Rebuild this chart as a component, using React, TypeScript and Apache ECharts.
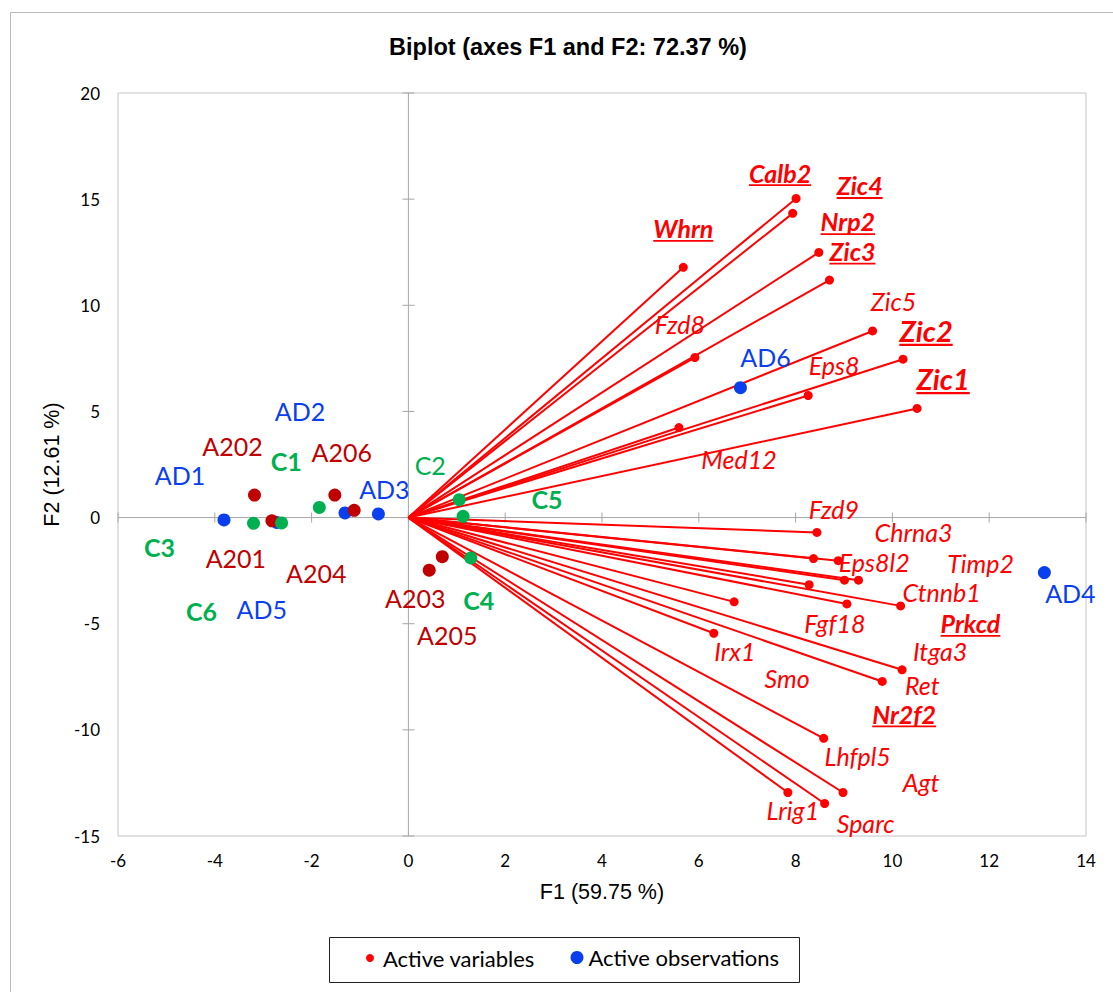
import React, { useEffect, useRef } from 'react';
import * as echarts from 'echarts';

// ---------- DATA ----------
const xTicks = [-6, -4, -2, 0, 2, 4, 6, 8, 10, 12, 14];
const yTicks = [-15, -10, -5, 0, 5, 10, 15, 20];

const varNames = [
  'Calb2', 'Zic4', 'Nrp2', 'Zic3', 'Whrn', 'Zic5', 'Zic2', 'Eps8', 'Zic1', 'Fzd8', 'Med12',
  'Fzd9', 'Chrna3', 'Eps8l2', 'Prkcd', 'Timp2', 'Nr2f2', 'Smo', 'Fgf18', 'Ctnnb1', 'Irx1',
  'Itga3', 'Ret', 'Lhfpl5', 'Agt', 'Lrig1', 'Sparc',
];
const varF1 = [
  8.01, 7.94, 8.48, 8.7, 5.68, 9.59, 10.22, 8.26, 10.51, 5.92, 5.59,
  8.44, 8.37, 8.88, 9.01, 9.3, 8.28, 6.73, 9.06, 10.17, 6.31,
  10.2, 9.79, 8.58, 8.98, 7.84, 8.6,
];
const varF2 = [
  15.03, 14.33, 12.49, 11.19, 11.79, 8.79, 7.46, 5.75, 5.14, 7.54, 4.24,
  -0.7, -1.93, -2.03, -2.95, -2.95, -3.16, -3.97, -4.07, -4.16, -5.45,
  -7.17, -7.72, -10.4, -12.95, -12.95, -13.47,
];
// emphasis: '' plain, 'b' bold+underline, 'B' big bold+underline
const varEmphasis = [
  'b', 'b', 'b', 'b', 'b', '', 'B', '', 'B', '', '',
  '', '', '', 'b', '', 'b', '', '', '', '',
  '', '', '', '', '', '',
];

const obsNames = [
  'AD1', 'AD2', 'AD3', 'AD4', 'AD5', 'AD6',
  'A201', 'A202', 'A203', 'A204', 'A205', 'A206',
  'C1', 'C2', 'C3', 'C4', 'C5', 'C6',
];
const obsF1 = [-3.81, -1.31, -0.62, 13.14, -2.72, 6.86, -2.82, -3.18, 0.43, -1.12, 0.7, -1.52, -1.84, 1.05, -3.2, 1.29, 1.13, -2.62];
const obsF2 = [-0.11, 0.22, 0.17, -2.59, -0.23, 6.12, -0.15, 1.06, -2.48, 0.34, -1.84, 1.06, 0.48, 0.84, -0.27, -1.9, 0.06, -0.25];
const obsGroup = ['AD', 'AD', 'AD', 'AD', 'AD', 'AD', 'A', 'A', 'A', 'A', 'A', 'A', 'C', 'C', 'C', 'C', 'C', 'C'];
const obsBold = [false, false, false, false, false, false, false, false, false, false, false, false, true, false, true, true, true, true];

// ---------- LAYOUT (label offsets in px from the point) ----------
const varLabelOffsets: [number, number][] = [
  [-16, -26], [67, -28], [29, -31], [23, -29], [0, -39], [21, -30], [23, -29], [26, -31], [26, -30], [-15, -34], [60, 31],
  [17, -23], [100, -27], [36, 1], [126, 43], [122, -17], [95, 129], [53, 76], [-12, 19], [41, -14], [21, 18],
  [38, -19], [40, 4], [34, 18], [78, -10], [5, 18], [41, 19],
];
const obsLabelOffsets: [number, number][] = [
  [-44, -45], [-45, -102], [6, -25], [26, 20], [-15, 87], [25, -31],
  [-36, 37], [-22, -49], [-14, 28], [-38, 63], [5, 78], [7, -43],
  [-33, -46], [-29, -35], [-94, 24], [8, 42], [84, -17], [-80, 88],
];

const RED = '#ff0000';
const BLUE = '#0a3ff0';
const DARKRED = '#c00000';
const GREEN = '#00b050';
const groupColor: Record<string, string> = { AD: BLUE, A: DARKRED, C: GREEN };
const LABEL_FONT = 'Lato';
const SANS = 'Liberation Sans';

let measureCtx: CanvasRenderingContext2D | null = null;
function textWidth(s: string, font: string) {
  if (!measureCtx) measureCtx = document.createElement('canvas').getContext('2d');
  if (!measureCtx) return s.length * 12;
  measureCtx.font = font;
  return measureCtx.measureText(s).width;
}

export default function App() {
  const ref = useRef<HTMLDivElement>(null);
  useEffect(() => {
    const chart = echarts.init(ref.current!, undefined, { renderer: 'svg' });
    const xMin = xTicks[0], xMax = xTicks[xTicks.length - 1];
    const yMin = yTicks[0], yMax = yTicks[yTicks.length - 1];

    const option: any = {
      animation: false,
      backgroundColor: '#ffffff',
      title: {
        text: 'Biplot (axes F1 and F2: 72.37 %)',
        left: 568,
        top: 35,
        padding: 0,
        textAlign: 'center',
        textStyle: { fontFamily: SANS, fontWeight: 'bold', fontSize: 23.5, color: '#000' },
      },
      graphic: [
        { type: 'rect', shape: { x: 10.5, y: 12.5, width: 1300, height: 1300 }, style: { fill: 'none', stroke: '#b8b8b8', lineWidth: 1 }, silent: true, z: -10 },
        { type: 'rect', shape: { x: 329.5, y: 937.5, width: 470, height: 45 }, style: { fill: '#fff', stroke: '#222', lineWidth: 1 }, silent: true, z: -5 },
      ],
      legend: [
        {
          data: [{ name: 'Active variables', icon: 'circle' }],
          left: 366, top: 947, padding: 0, itemWidth: 16, itemHeight: 8,
          textStyle: { fontFamily: LABEL_FONT, fontSize: 22, color: '#000' },
          selectedMode: false,
        },
        {
          data: [{ name: 'Active observations', icon: 'circle' }],
          left: 570.5, top: 946.5, padding: 0, itemWidth: 13, itemHeight: 13,
          textStyle: { fontFamily: LABEL_FONT, fontSize: 22, color: '#000' },
          selectedMode: false,
        },
      ],
      grid: { left: 118, right: 27, top: 93, bottom: 156, show: true, borderColor: '#c4c4c4', borderWidth: 1, containLabel: false },
      xAxis: {
        type: 'value', min: xMin, max: xMax, interval: 2,
        axisLine: { show: false }, axisTick: { show: false }, splitLine: { show: false },
        axisLabel: { margin: 16, fontFamily: LABEL_FONT, fontSize: 17, color: '#000' },
        name: 'F1 (59.75 %)', nameLocation: 'middle', nameGap: 45,
        nameTextStyle: { fontFamily: SANS, fontSize: 21.5, color: '#000' },
      },
      yAxis: {
        type: 'value', min: yMin, max: yMax, interval: 5,
        axisLine: { show: false }, axisTick: { show: false }, splitLine: { show: false },
        axisLabel: { margin: 18, fontFamily: LABEL_FONT, fontSize: 17, color: '#000' },
        name: 'F2 (12.61 %)', nameLocation: 'middle', nameGap: 50, nameRotate: 90,
        nameTextStyle: { fontFamily: SANS, fontSize: 21.5, color: '#000' },
      },
      series: [
        {
          type: 'custom', name: 'zeroAxes', silent: true, z: 1,
          data: [[0, 0]],
          renderItem: (_p: any, api: any) => {
            const stroke = '#a6a6a6';
            const l = api.coord([xMin, 0]);
            const r = api.coord([xMax, 0]);
            const t = api.coord([0, yMax]);
            const b = api.coord([0, yMin]);
            const children: any[] = [
              { type: 'line', shape: { x1: l[0], y1: l[1], x2: r[0], y2: r[1] }, style: { stroke, lineWidth: 1 } },
              { type: 'line', shape: { x1: t[0], y1: t[1], x2: b[0], y2: b[1] }, style: { stroke, lineWidth: 1 } },
            ];
            xTicks.forEach((v) => {
              const p = api.coord([v, 0]);
              children.push({ type: 'line', shape: { x1: p[0], y1: p[1] - 5, x2: p[0], y2: p[1] + 5 }, style: { stroke, lineWidth: 1 } });
            });
            yTicks.forEach((v) => {
              const p = api.coord([0, v]);
              children.push({ type: 'line', shape: { x1: p[0] - 6, y1: p[1], x2: p[0] + 6, y2: p[1] }, style: { stroke, lineWidth: 1 } });
            });
            return { type: 'group', children };
          },
        },
        {
          type: 'custom', name: 'vectors', silent: true, z: 2,
          data: varNames.map((_, i) => [varF1[i], varF2[i]]),
          encode: { x: 0, y: 1 },
          renderItem: (_p: any, api: any) => {
            const o = api.coord([0, 0]);
            const e = api.coord([api.value(0), api.value(1)]);
            return { type: 'line', shape: { x1: o[0], y1: o[1], x2: e[0], y2: e[1] }, style: { stroke: RED, lineWidth: 2 } };
          },
        },
        {
          type: 'scatter', name: 'Active variables', z: 3,
          symbol: 'circle', symbolSize: 9,
          itemStyle: { color: RED, opacity: 1 },
          data: varNames.map((n, i) => ({ name: n, value: [varF1[i], varF2[i]] })),
        },
        {
          type: 'scatter', name: 'Active observations', z: 4,
          symbol: 'circle', symbolSize: 13,
          itemStyle: { color: BLUE, opacity: 1 },
          data: obsNames.map((n, i) => ({ name: n, value: [obsF1[i], obsF2[i]], itemStyle: { color: groupColor[obsGroup[i]], opacity: 1 } })),
        },
        {
          type: 'custom', name: 'varLabels', silent: true, z: 5,
          data: varNames.map((_, i) => [varF1[i], varF2[i], i]),
          encode: { x: 0, y: 1 },
          renderItem: (_p: any, api: any) => {
            const i = api.value(2);
            const p = api.coord([api.value(0), api.value(1)]);
            const [dx, dy] = varLabelOffsets[i];
            const em = varEmphasis[i];
            const size = em === 'B' ? 29 : 25;
            const weight = em ? 'bold' : 'normal';
            const cx = p[0] + dx, cy = p[1] + dy;
            const children: any[] = [
              {
                type: 'text', x: cx, y: cy,
                style: { text: varNames[i], fill: RED, fontFamily: LABEL_FONT, fontSize: size, fontWeight: weight, fontStyle: 'italic', align: 'center', verticalAlign: 'middle' },
              },
            ];
            if (em) {
              const w = textWidth(varNames[i], `italic bold ${size}px ${LABEL_FONT}`);
              children.push({ type: 'rect', shape: { x: cx - w / 2, y: cy + size * 0.47, width: w, height: em === 'B' ? 2.2 : 1.8 }, style: { fill: RED } });
            }
            return { type: 'group', children };
          },
        },
        {
          type: 'custom', name: 'obsLabels', silent: true, z: 5,
          data: obsNames.map((_, i) => [obsF1[i], obsF2[i], i]),
          encode: { x: 0, y: 1 },
          renderItem: (_p: any, api: any) => {
            const i = api.value(2);
            const p = api.coord([api.value(0), api.value(1)]);
            const [dx, dy] = obsLabelOffsets[i];
            return {
              type: 'text', x: p[0] + dx, y: p[1] + dy,
              style: {
                text: obsNames[i], fill: groupColor[obsGroup[i]], fontFamily: LABEL_FONT, fontSize: 25,
                fontWeight: obsBold[i] ? 'bold' : 'normal', align: 'center', verticalAlign: 'middle',
              },
            };
          },
        },
      ],
    };
    chart.setOption(option);
    return () => chart.dispose();
  }, []);
  return <div ref={ref} style={{ position: 'absolute', left: 0, top: 0, width: 1113, height: 992, background: '#fff' }} />;
}
